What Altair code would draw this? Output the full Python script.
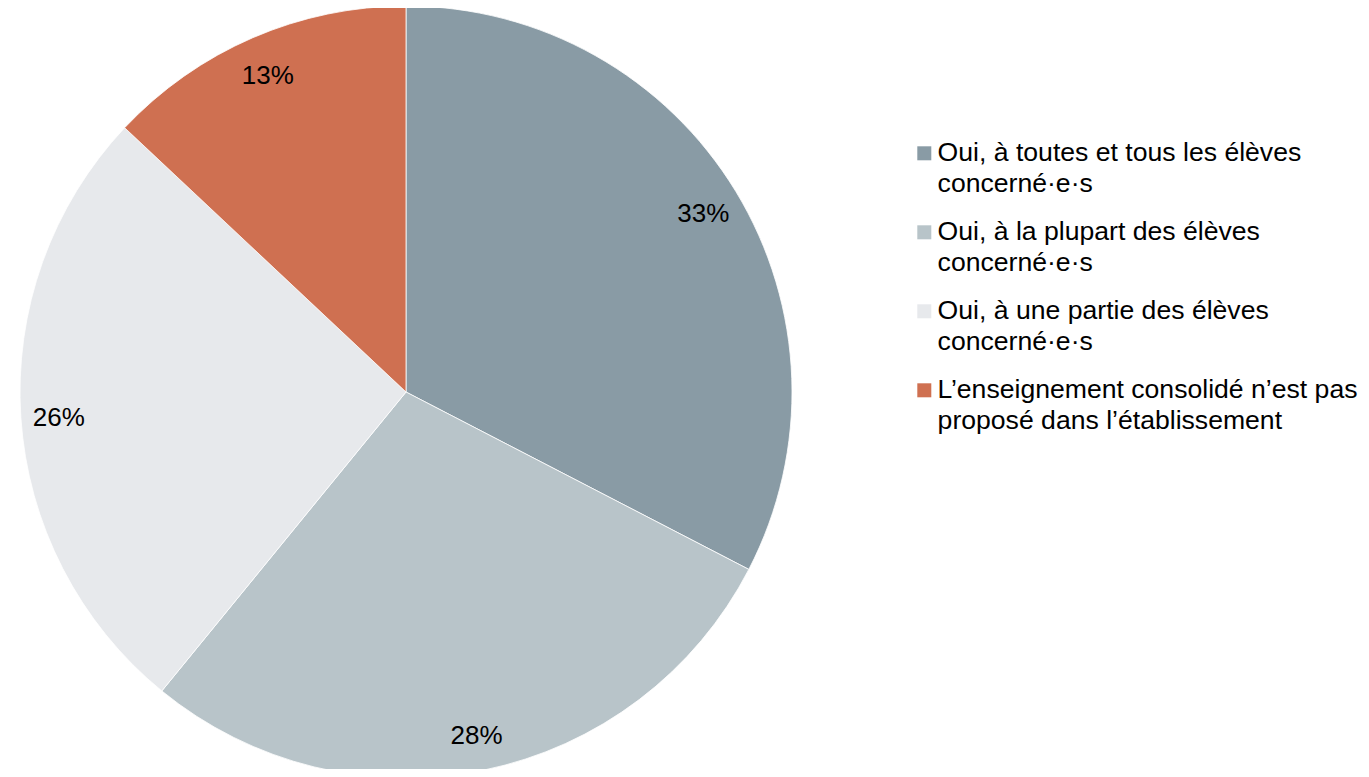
import altair as alt
import pandas as pd

categories = [
    "Oui, à toutes et tous les élèves|concerné·e·s",
    "Oui, à la plupart des élèves|concerné·e·s",
    "Oui, à une partie des élèves|concerné·e·s",
    "L’enseignement consolidé n’est pas|proposé dans l’établissement",
]
values = [32.6, 28.3, 26.1, 13.0]
colors = ["#899BA5", "#B8C4C9", "#E7E9EC", "#CF7051"]

df = pd.DataFrame({"cat": categories, "value": values, "idx": list(range(len(values)))})

FONT = "Liberation Sans"

base = alt.Chart(df).transform_calculate(
    label="format(round(datum.value), 'd') + '%'"
).encode(
    theta=alt.Theta("value:Q", stack=True),
    order=alt.Order("idx:Q"),
    x=alt.value(398),
    y=alt.value(384),
)

pie = base.mark_arc(radius=386, stroke="white", strokeWidth=0.8).encode(
    color=alt.Color(
        "cat:N",
        sort=categories,
        scale=alt.Scale(domain=categories, range=colors),
        legend=alt.Legend(
            title=None,
            orient="none",
            legendX=903,
            legendY=132,
            padding=0,
            labelExpr="split(datum.label, '|')",
            labelFont=FONT,
            labelFontSize=26.6,
            labelColor="black",
            labelBaseline="middle",
            labelLimit=700,
            labelOffset=0,
            symbolType="square",
            symbolSize=196,
            symbolStrokeWidth=0,
            symbolOpacity=1,
            rowPadding=21,
        ),
    )
)

text = base.mark_text(
    radius=348, font=FONT, fontSize=26, color="black", align="center", baseline="middle", dy=3
).encode(
    text="label:N",
    detail="cat:N",
)

chart = (
    alt.layer(pie, text)
    .properties(width=1353, height=761, autosize="none", padding=0)
    .configure(style={"guide-label": {"lineHeight": 31}})
    .configure_view(stroke=None)
)

chart.save("out.html", embed_options={"renderer": "svg", "actions": False})
